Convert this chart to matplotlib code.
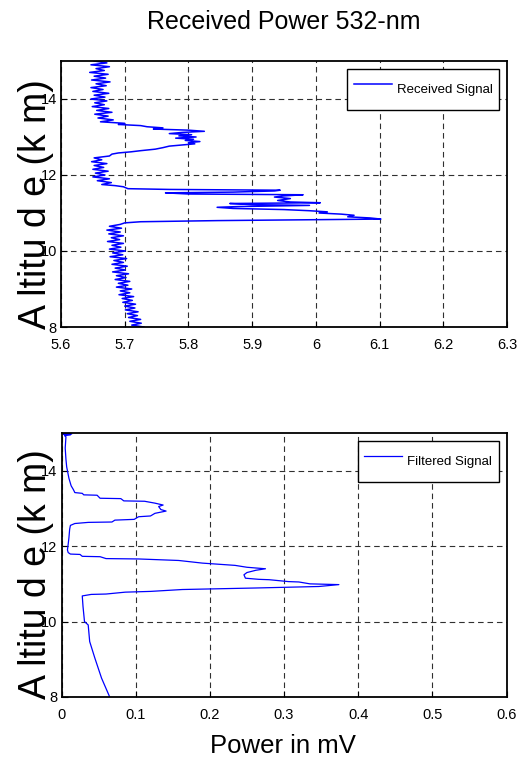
import matplotlib
matplotlib.use("Agg")
import matplotlib.pyplot as plt

plt.rcParams['font.family'] = ['Liberation Sans', 'DejaVu Sans']

# Received signal (mV) vs altitude (km)
recv_alt = [
    15.00, 14.95, 14.90, 14.85, 14.80, 14.75, 14.70, 14.65, 14.60, 14.55,
    14.50, 14.45, 14.40, 14.35, 14.30, 14.25, 14.20, 14.15, 14.10, 14.05,
    14.00, 13.95, 13.90, 13.85, 13.80, 13.75, 13.70, 13.65, 13.60, 13.55,
    13.50, 13.45, 13.40,
    13.36, 13.33, 13.30, 13.27, 13.24, 13.21, 13.18, 13.15, 13.12, 13.09,
    13.06, 13.03, 13.00, 12.97, 12.94, 12.91, 12.88, 12.85, 12.82, 12.79,
    12.76, 12.72, 12.68, 12.64, 12.61, 12.58, 12.55,
    12.50, 12.45, 12.40, 12.35, 12.30, 12.25, 12.20, 12.15, 12.10, 12.05,
    12.00, 11.95, 11.90, 11.85, 11.80, 11.75, 11.72,
    11.69, 11.64, 11.62, 11.60, 11.58, 11.55, 11.53, 11.50, 11.48, 11.45,
    11.42, 11.38, 11.33, 11.29, 11.27, 11.25, 11.22, 11.20, 11.17, 11.15,
    11.12, 11.09, 11.06, 11.03, 11.00, 10.97, 10.94, 10.90, 10.87, 10.84,
    10.82, 10.80, 10.78, 10.77, 10.74, 10.70,
    10.65, 10.60, 10.55, 10.50, 10.45, 10.40, 10.35, 10.30, 10.25, 10.20,
    10.15, 10.10, 10.05, 10.00, 9.95, 9.90, 9.85, 9.80, 9.75, 9.70,
    9.65, 9.60, 9.55, 9.50, 9.45, 9.40, 9.35, 9.30, 9.25, 9.20,
    9.15, 9.10, 9.05, 9.00, 8.95, 8.90, 8.85, 8.80, 8.75, 8.70,
    8.65, 8.60, 8.55, 8.50, 8.45, 8.40, 8.35, 8.30, 8.25, 8.20,
    8.15, 8.10, 8.05, 8.00,
]
recv_mv = [
    5.652, 5.672, 5.647, 5.676, 5.655, 5.668, 5.645, 5.674, 5.652, 5.670,
    5.648, 5.677, 5.655, 5.671, 5.647, 5.666, 5.650, 5.675, 5.652, 5.669,
    5.647, 5.672, 5.653, 5.668, 5.649, 5.675, 5.656, 5.680, 5.653, 5.674,
    5.658, 5.682, 5.662,
    5.700, 5.690, 5.725, 5.735, 5.760, 5.745, 5.800, 5.825, 5.790, 5.770,
    5.805, 5.785, 5.812, 5.780, 5.808, 5.795, 5.818, 5.800, 5.810, 5.790,
    5.770, 5.760, 5.748, 5.725, 5.710, 5.690, 5.680,
    5.676, 5.652, 5.664, 5.648, 5.672, 5.652, 5.667, 5.650, 5.674, 5.654,
    5.669, 5.650, 5.676, 5.657, 5.679, 5.664, 5.685,
    5.698, 5.705, 5.770, 5.944, 5.935, 5.870, 5.764, 5.800, 5.980, 5.950,
    5.935, 5.960, 5.940, 5.960, 6.007, 5.865, 5.900, 5.990, 5.880, 5.845,
    5.870, 5.950, 5.990, 6.018, 6.005, 6.040, 6.060, 6.050, 6.085, 6.102,
    5.980, 5.846, 5.760, 5.725, 5.700, 5.693,
    5.676, 5.695, 5.672, 5.693, 5.675, 5.698, 5.679, 5.692, 5.673, 5.698,
    5.680, 5.694, 5.676, 5.701, 5.681, 5.697, 5.677, 5.703, 5.683, 5.698,
    5.680, 5.704, 5.685, 5.701, 5.681, 5.706, 5.687, 5.702, 5.685, 5.708,
    5.690, 5.705, 5.687, 5.711, 5.693, 5.708, 5.691, 5.714, 5.696, 5.712,
    5.697, 5.717, 5.700, 5.716, 5.701, 5.721, 5.704, 5.720, 5.706, 5.725,
    5.708, 5.726, 5.711, 5.730,
]

# Filtered signal (mV) vs altitude (km)
filt_alt = [
    15.00, 14.98, 14.97, 14.95, 14.93, 14.90, 14.60, 14.30, 14.10, 14.00,
    13.80, 13.60, 13.50, 13.42, 13.40, 13.36, 13.35, 13.27, 13.26, 13.20,
    13.19, 13.14, 13.09, 13.05, 12.97, 12.93, 12.87, 12.80, 12.78, 12.71,
    12.69, 12.64, 12.63, 12.60, 12.55, 12.45, 12.22, 12.05, 11.90, 11.83,
    11.79, 11.78, 11.73, 11.72, 11.67, 11.66, 11.62, 11.55, 11.49, 11.44,
    11.40, 11.36, 11.30, 11.24, 11.15, 11.12, 11.11, 11.06, 11.05, 11.00,
    10.98, 10.93, 10.89, 10.85, 10.80, 10.78, 10.73, 10.72, 10.68, 10.40,
    10.00, 9.91, 9.47, 9.03, 8.50, 8.00,
]
filt_mv = [
    0.000, 0.014, 0.002, 0.012, 0.004, 0.006, 0.005, 0.006, 0.007, 0.008,
    0.010, 0.013, 0.016, 0.018, 0.028, 0.030, 0.048, 0.052, 0.080, 0.084,
    0.112, 0.126, 0.137, 0.131, 0.134, 0.141, 0.126, 0.120, 0.104, 0.098,
    0.072, 0.068, 0.036, 0.018, 0.012, 0.011, 0.010, 0.009, 0.008, 0.009,
    0.012, 0.025, 0.028, 0.052, 0.060, 0.104, 0.158, 0.190, 0.234, 0.250,
    0.275, 0.262, 0.250, 0.246, 0.248, 0.266, 0.280, 0.306, 0.320, 0.335,
    0.374, 0.347, 0.261, 0.163, 0.120, 0.086, 0.060, 0.040, 0.028, 0.029,
    0.031, 0.036, 0.038, 0.045, 0.054, 0.065,
]

W, H = 521, 780
fig = plt.figure(figsize=(W / 100, H / 100), dpi=100)

ax1 = fig.add_axes([61 / W, 1 - 327 / H, 446 / W, 266 / H])
ax2 = fig.add_axes([61.5 / W, 1 - 697 / H, 445 / W, 264 / H])

ax1.plot(recv_mv, recv_alt, color='#0000ff', lw=1.1, label='Received Signal')
ax2.plot(filt_mv, filt_alt, color='#0000ff', lw=0.9, label='Filtered Signal')

ax1.set_xlim(5.6, 6.3)
ax1.set_xticks([5.6, 5.7, 5.8, 5.9, 6.0, 6.1, 6.2, 6.3])
ax1.set_xticklabels(['5.6', '5.7', '5.8', '5.9', '6', '6.1', '6.2', '6.3'])
ax2.set_xlim(0, 0.6)
ax2.set_xticks([0, 0.1, 0.2, 0.3, 0.4, 0.5, 0.6])
ax2.set_xticklabels(['0', '0.1', '0.2', '0.3', '0.4', '0.5', '0.6'])

for ax in (ax1, ax2):
    ax.set_ylim(8, 15)
    ax.set_yticks([8, 10, 12, 14])
    ax.grid(True, color='#303030', linestyle=(0, (5, 3.5)), lw=0.8)
    ax.tick_params(direction='in', length=4, width=0.8, labelsize=10.5,
                   pad=3)
    ax.tick_params(axis='x', pad=8)
    for s in ax.spines.values():
        s.set_linewidth(1.3)
        s.set_color('black')
    leg = ax.legend(loc='upper right', fontsize=9.5, fancybox=False,
                    framealpha=1, edgecolor='black', borderpad=0.5,
                    borderaxespad=0.6, handlelength=2.9, handletextpad=0.35,
                    handleheight=2.9)
    leg.get_frame().set_linewidth(1.0)

fig.text(284 / W, 1 - 22 / H, 'Received Power 532-nm', ha='center',
         va='center', fontsize=18)
fig.text(283 / W, 1 - 746 / H, 'Power in mV', ha='center', va='center',
         fontsize=18.5)
fig.text(36 / W, 1 - 204 / H, 'A ltitu d e (k m)', rotation=90,
         ha='center', va='center', fontsize=27)
fig.text(36 / W, 1 - 574 / H, 'A ltitu d e (k m)', rotation=90,
         ha='center', va='center', fontsize=27)

fig.savefig('out.png', dpi=100)
